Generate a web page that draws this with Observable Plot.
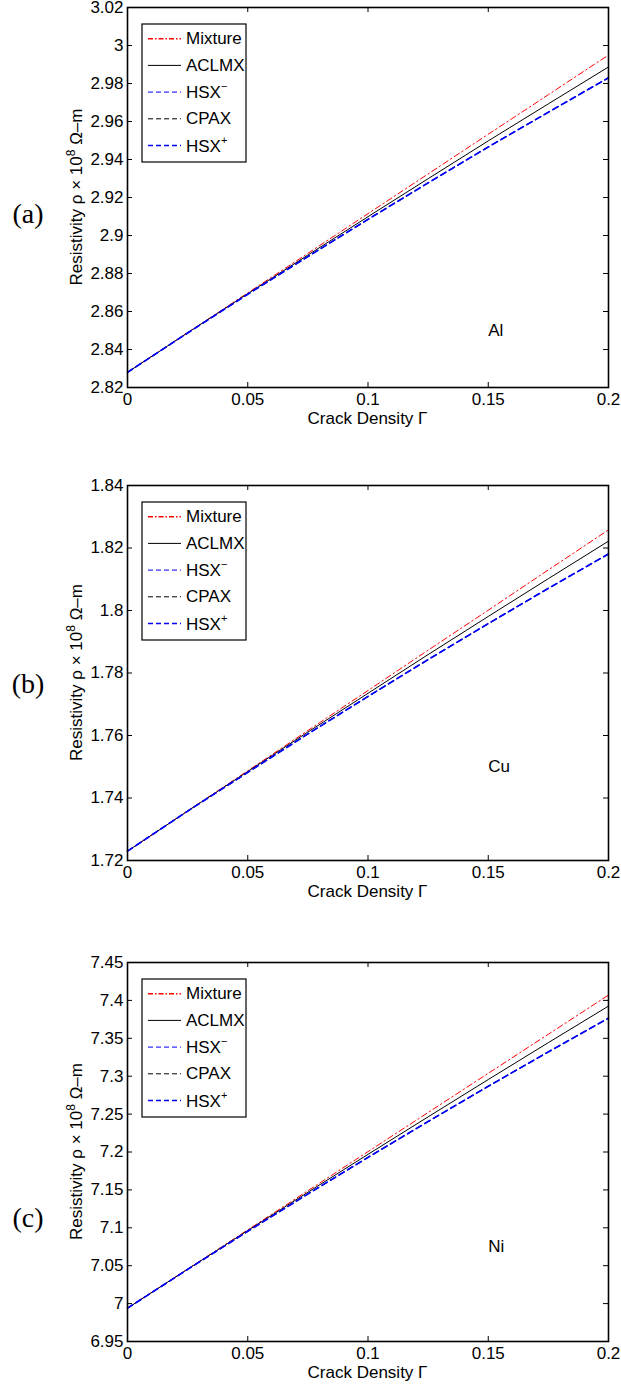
<!DOCTYPE html>
<html><head><meta charset="utf-8">
<script src="https://cdn.jsdelivr.net/npm/d3@7"></script>
<script src="https://cdn.jsdelivr.net/npm/@observablehq/plot@0.6"></script>
<style>
body{margin:0;background:#fff;}
#chart{width:621px;}
#chart svg{display:block;}
</style>
</head><body><div id="chart"></div>
<script>
// Crack density values (x)
const gamma = [0, 0.025, 0.05, 0.075, 0.1, 0.125, 0.15, 0.175, 0.2];
const xTicks = [0, 0.05, 0.1, 0.15, 0.2];

// Legend / series names
const seriesNames = ["Mixture", "ACLMX", "HSX-", "CPAX", "HSX+"];

// Al
const alMixture = [2.828, 2.8489, 2.8698, 2.8906, 2.9115, 2.9324, 2.9533, 2.9741, 2.995];
const alACLMX   = [2.828, 2.8488, 2.8694, 2.8897, 2.9099, 2.9299, 2.9498, 2.9693, 2.9887];
const alHSXm    = [2.828, 2.8487, 2.8691, 2.8889, 2.9085, 2.9277, 2.9466, 2.9649, 2.983];
const alCPAX    = [2.828, 2.8487, 2.8691, 2.8889, 2.9085, 2.9277, 2.9466, 2.9649, 2.983];
const alHSXp    = [2.828, 2.8487, 2.8691, 2.8889, 2.9085, 2.9277, 2.9466, 2.9649, 2.983];
const alTicks   = [2.82, 2.84, 2.86, 2.88, 2.9, 2.92, 2.94, 2.96, 2.98, 3, 3.02];

// Cu
const cuMixture = [1.723, 1.7359, 1.7487, 1.7616, 1.7744, 1.7873, 1.8001, 1.8130, 1.8258];
const cuACLMX   = [1.723, 1.7358, 1.7485, 1.7611, 1.7735, 1.7859, 1.7981, 1.8102, 1.8222];
const cuHSXm    = [1.723, 1.7358, 1.7482, 1.7605, 1.7725, 1.7843, 1.7958, 1.8071, 1.8181];
const cuCPAX    = [1.723, 1.7358, 1.7482, 1.7605, 1.7725, 1.7843, 1.7958, 1.8071, 1.8181];
const cuHSXp    = [1.723, 1.7358, 1.7482, 1.7605, 1.7725, 1.7843, 1.7958, 1.8071, 1.8181];
const cuTicks   = [1.72, 1.74, 1.76, 1.78, 1.8, 1.82, 1.84];

// Ni
const niMixture = [6.994, 7.0456, 7.0973, 7.1489, 7.2005, 7.2521, 7.3038, 7.3554, 7.407];
const niACLMX   = [6.994, 7.0454, 7.0964, 7.1469, 7.1969, 7.2464, 7.2956, 7.3443, 7.3925];
const niHSXm    = [6.994, 7.0451, 7.0954, 7.1446, 7.1929, 7.2402, 7.2867, 7.3321, 7.3766];
const niCPAX    = [6.994, 7.0451, 7.0954, 7.1446, 7.1929, 7.2402, 7.2867, 7.3321, 7.3766];
const niHSXp    = [6.994, 7.0451, 7.0954, 7.1446, 7.1929, 7.2402, 7.2867, 7.3321, 7.3766];
const niTicks   = [6.95, 7, 7.05, 7.1, 7.15, 7.2, 7.25, 7.3, 7.35, 7.4, 7.45];

// Material annotation (data coords)
const metals = ["Al", "Cu", "Ni"];
const metalGamma = 0.15;
const metalY = [2.85, 1.75, 7.075];
const panelLetters = ["(a)", "(b)", "(c)"];

const styles = {
  "Mixture": {stroke: "#ff0000", dash: "6,3,1.5,3", w: 1, lw: 1.4, ldash: "5,2,1.5,2"},
  "ACLMX":   {stroke: "#000000", dash: null, w: 1, lw: 1, ldash: null},
  "HSX-":    {stroke: "#3333ff", dash: "6,4", w: 1.3, lw: 1.4, ldash: "5,3"},
  "CPAX":    {stroke: "#000000", dash: "6,4", w: 1, lw: 1, ldash: "5,3"},
  "HSX+":    {stroke: "#0000ff", dash: "6,4", w: 1.6, lw: 1.5, ldash: "5,3"}
};

const panels = [
  {series: [alMixture, alACLMX, alHSXm, alCPAX, alHSXp], ticks: alTicks, height: 477, top: 7, bottom: 90, letterY: 213},
  {series: [cuMixture, cuACLMX, cuHSXm, cuCPAX, cuHSXp], ticks: cuTicks, height: 477, top: 8, bottom: 94, letterY: 206},
  {series: [niMixture, niACLMX, niHSXm, niCPAX, niHSXp], ticks: niTicks, height: 433, top: 8, bottom: 46, letterY: 263}
];

const W = 621, ML = 127, MR = 13;
const plotW = W - ML - MR;
const font = "'Liberation Sans', Arial, Helvetica, sans-serif";
const fmt = d => String(d);
const chart = document.getElementById("chart");

panels.forEach((p, i) => {
  const plotH = p.height - p.top - p.bottom;
  const lineMarks = seriesNames.map((name, s) => {
    const rows = gamma.map((g, k) => ({g, v: p.series[s][k]}));
    const st = styles[name];
    return Plot.line(rows, {x: "g", y: "v", stroke: st.stroke, strokeWidth: st.w, strokeDasharray: st.dash});
  });
  const svg = Plot.plot({
    width: W, height: p.height,
    marginLeft: ML, marginRight: MR, marginTop: p.top, marginBottom: p.bottom,
    style: {fontFamily: font, fontSize: "17px", background: "#fff", color: "#000", overflow: "visible"},
    x: {domain: [0, 0.2], label: null},
    y: {domain: [p.ticks[0], p.ticks[p.ticks.length - 1]], label: null},
    marks: [
      ...lineMarks,
      Plot.axisX(xTicks, {tickSize: 0, tickPadding: 5, tickFormat: fmt, label: null}),
      Plot.axisY(p.ticks, {tickSize: 0, tickPadding: 4, tickFormat: fmt, label: null}),
      Plot.tickX(xTicks, {x: d => d, insetTop: plotH - 5, stroke: "#000"}),
      Plot.tickX(xTicks, {x: d => d, insetBottom: plotH - 5, stroke: "#000"}),
      Plot.tickY(p.ticks, {y: d => d, insetRight: plotW - 5, stroke: "#000"}),
      Plot.tickY(p.ticks, {y: d => d, insetLeft: plotW - 5, stroke: "#000"}),
      Plot.frame({stroke: "#000", strokeWidth: 1.6}),
      Plot.text([metals[i]], {x: () => metalGamma, y: () => metalY[i], text: d => d, textAnchor: "start", fontSize: 17, fill: "#000"})
    ]
  });
  const s = d3.select(svg);
  // x label
  s.append("text").attr("x", ML + plotW / 2).attr("y", p.top + plotH + 37)
    .attr("text-anchor", "middle").attr("font-size", 17).attr("fill", "#000")
    .text("Crack Density Γ");
  // y label
  const yl = s.append("text")
    .attr("transform", `translate(82,${p.top + plotH / 2}) rotate(-90)`)
    .attr("text-anchor", "middle").attr("font-size", 17).attr("fill", "#000");
  yl.append("tspan").text("Resistivity ρ × 10");
  yl.append("tspan").attr("baseline-shift", "super").attr("font-size", 12).text("8");
  yl.append("tspan").text(" Ω–m");
  // panel letter
  s.append("text").attr("x", 28).attr("y", p.letterY).attr("text-anchor", "middle")
    .attr("dominant-baseline", "central")
    .attr("font-family", "'Liberation Serif', 'DejaVu Serif', serif").attr("font-size", 28).attr("fill", "#000")
    .text(panelLetters[i]);
  // legend
  const lg = s.append("g").attr("transform", `translate(${ML + 15},${p.top + 17})`);
  lg.append("rect").attr("width", 104).attr("height", 138).attr("fill", "#fff").attr("stroke", "#000").attr("stroke-width", 1.2);
  seriesNames.forEach((name, k) => {
    const st = styles[name];
    const y = 14.7 + k * 26.7;
    lg.append("line").attr("x1", 6).attr("x2", 39).attr("y1", y).attr("y2", y)
      .attr("stroke", st.stroke).attr("stroke-width", st.lw)
      .attr("stroke-dasharray", st.ldash);
    const t = lg.append("text").attr("x", 44).attr("y", y).attr("dominant-baseline", "central")
      .attr("text-anchor", "start").attr("font-size", 17).attr("fill", "#000");
    if (name === "HSX-" || name === "HSX+") {
      t.append("tspan").text("HSX");
      t.append("tspan").attr("baseline-shift", "super").attr("font-size", 11).text(name === "HSX-" ? "−" : "+");
    } else {
      t.text(name);
    }
  });
  chart.appendChild(svg);
});
</script>
</body></html>
